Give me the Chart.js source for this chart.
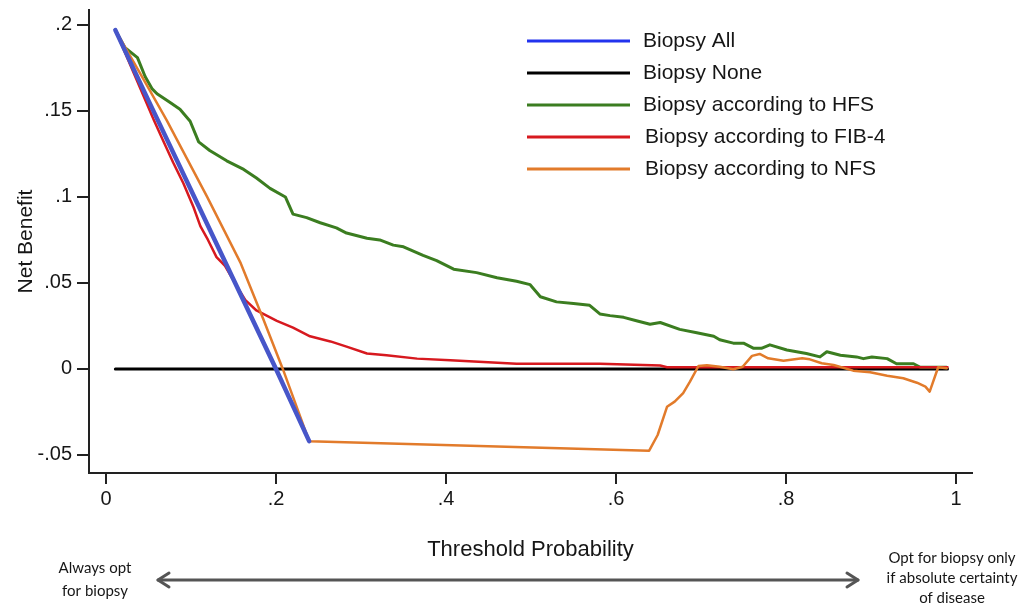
<!DOCTYPE html>
<html><head><meta charset="utf-8">
<script src="https://cdn.jsdelivr.net/npm/chart.js@4/dist/chart.umd.min.js"></script>
<style>html,body{margin:0;padding:0;background:#fff;} canvas{display:block;}</style>
</head><body>
<canvas id="c" width="1019" height="603"></canvas>
<script>
// ---- data ----
const xTickValues = [0, 0.2, 0.4, 0.6, 0.8, 1];
const xTickLabels = ['0', '.2', '.4', '.6', '.8', '1'];
const yTickValues = [-0.05, 0, 0.05, 0.1, 0.15, 0.2];
const yTickLabels = ['-.05', '0', '.05', '.1', '.15', '.2'];

const seriesNames = ['Biopsy All', 'Biopsy None', 'Biopsy according to HFS', 'Biopsy according to FIB-4', 'Biopsy according to NFS'];

const allX = [0.011, 0.05, 0.10, 0.15, 0.20, 0.239];
const allY = [0.197, 0.156, 0.104, 0.052, 0.000, -0.042];

const noneX = [0.011, 0.99];
const noneY = [0, 0];

const hfsX = [0.011,0.022,0.037,0.046,0.054,0.060,0.075,0.087,0.099,0.109,0.122,0.142,0.162,0.177,0.193,0.211,0.220,0.236,0.252,0.271,0.283,0.307,0.322,0.338,0.350,0.373,0.389,0.409,0.436,0.460,0.483,0.499,0.511,0.530,0.550,0.569,0.581,0.593,0.609,0.624,0.640,0.652,0.675,0.695,0.705,0.715,0.722,0.738,0.750,0.762,0.771,0.781,0.801,0.824,0.840,0.848,0.864,0.883,0.891,0.901,0.919,0.930,0.950,0.958,0.989];
const hfsY = [0.197,0.187,0.181,0.170,0.163,0.160,0.155,0.151,0.144,0.132,0.127,0.121,0.116,0.111,0.105,0.100,0.090,0.088,0.085,0.082,0.079,0.076,0.075,0.072,0.071,0.066,0.063,0.058,0.056,0.053,0.051,0.049,0.042,0.039,0.038,0.037,0.032,0.031,0.030,0.028,0.026,0.027,0.023,0.021,0.020,0.019,0.017,0.015,0.015,0.012,0.012,0.014,0.011,0.009,0.007,0.010,0.008,0.007,0.006,0.007,0.006,0.003,0.003,0.001,0.001];

const fibX = [0.011,0.056,0.067,0.079,0.091,0.103,0.111,0.120,0.130,0.140,0.154,0.164,0.177,0.193,0.201,0.220,0.240,0.264,0.283,0.307,0.330,0.366,0.405,0.444,0.483,0.502,0.542,0.581,0.652,0.660,0.990];
const fibY = [0.197,0.145,0.133,0.120,0.108,0.094,0.083,0.075,0.065,0.060,0.048,0.040,0.034,0.030,0.028,0.024,0.019,0.016,0.013,0.009,0.008,0.006,0.005,0.004,0.003,0.003,0.003,0.003,0.002,0.001,0.001];

const nfsX = [0.011,0.040,0.071,0.119,0.158,0.185,0.208,0.239,0.639,0.649,0.660,0.669,0.679,0.687,0.697,0.707,0.722,0.738,0.749,0.760,0.769,0.779,0.797,0.819,0.828,0.842,0.856,0.879,0.899,0.919,0.938,0.954,0.964,0.969,0.979,0.989];
const nfsY = [0.197,0.172,0.145,0.100,0.062,0.029,0.000,-0.042,-0.0475,-0.0384,-0.022,-0.019,-0.014,-0.0074,0.0017,0.0022,0.0013,-0.0002,0.0013,0.0076,0.0087,0.0062,0.0048,0.0062,0.0056,0.0033,0.0023,-0.001,-0.0019,-0.0039,-0.0054,-0.008,-0.0103,-0.0132,0.001,0.0004];

const leftNote = ['Always opt', 'for biopsy'];
const rightNote = ['Opt for biopsy only', 'if absolute certainty', 'of disease'];
const xTitle = 'Threshold Probability';
const yTitle = 'Net Benefit';

// ---- helpers ----
const zip = (xs, ys) => xs.map((x, i) => ({ x: x, y: ys[i] }));
const FONT = '"Liberation Sans", Arial, sans-serif';
const TEXT = '#161616';

const insideLegend = {
  id: 'insideLegend',
  afterDraw(chart) {
    const ctx = chart.ctx;
    ctx.save();
    chart.data.datasets.forEach((ds, i) => {
      const y = 41 + i * 32;
      ctx.strokeStyle = ds.legendColor || ds.borderColor;
      ctx.lineWidth = 3;
      ctx.beginPath(); ctx.moveTo(527, y); ctx.lineTo(630, y); ctx.stroke();
      ctx.fillStyle = TEXT;
      ctx.font = '21px ' + FONT;
      ctx.textBaseline = 'middle';
      ctx.textAlign = 'left';
      ctx.fillText(ds.label, i >= 3 ? 645 : 643, y);
    });
    ctx.restore();
  }
};

const bottomNotes = {
  id: 'bottomNotes',
  afterDraw(chart) {
    const ctx = chart.ctx;
    ctx.save();
    const y = 580, x1 = 158, x2 = 858;
    ctx.strokeStyle = '#555';
    ctx.lineWidth = 3;
    ctx.lineCap = 'round';
    ctx.lineJoin = 'round';
    ctx.beginPath(); ctx.moveTo(x1, y); ctx.lineTo(x2, y); ctx.stroke();
    ctx.beginPath(); ctx.moveTo(x1 + 11, y - 7); ctx.lineTo(x1, y); ctx.lineTo(x1 + 11, y + 7); ctx.stroke();
    ctx.beginPath(); ctx.moveTo(x2 - 11, y - 7); ctx.lineTo(x2, y); ctx.lineTo(x2 - 11, y + 7); ctx.stroke();
    ctx.fillStyle = TEXT;
    ctx.font = '15px Lato, "Open Sans", sans-serif';
    ctx.textAlign = 'center';
    ctx.textBaseline = 'middle';
    leftNote.forEach((t, i) => ctx.fillText(t, 95, 568 + i * 23));
    rightNote.forEach((t, i) => ctx.fillText(t, 952, 558 + i * 20));
    ctx.restore();
  }
};

new Chart(document.getElementById('c'), {
  type: 'line',
  data: {
    datasets: [
      { label: seriesNames[0], data: zip(allX, allY), borderColor: '#4756c9', legendColor: '#2233ee', borderWidth: 4.5, order: 1 },
      { label: seriesNames[1], data: zip(noneX, noneY), borderColor: '#000000', borderWidth: 3, order: 5 },
      { label: seriesNames[2], data: zip(hfsX, hfsY), borderColor: '#3b7d20', borderWidth: 3, order: 4 },
      { label: seriesNames[3], data: zip(fibX, fibY), borderColor: '#d7191f', borderWidth: 2.5, order: 3 },
      { label: seriesNames[4], data: zip(nfsX, nfsY), borderColor: '#e27b2b', borderWidth: 2.5, order: 2 }
    ]
  },
  options: {
    responsive: false,
    animation: false,
    layout: { padding: { top: 10, right: 47, left: 0, bottom: 0 } },
    plugins: { legend: { display: false }, tooltip: { enabled: false } },
    elements: {
      point: { radius: 0 },
      line: { tension: 0, borderJoinStyle: 'round', borderCapStyle: 'round', fill: false }
    },
    scales: {
      x: {
        type: 'linear', min: -0.02, max: 1.0188,
        afterBuildTicks: s => { s.ticks = xTickValues.map(v => ({ value: v })); },
        afterFit: s => { s.height = 130; s.paddingLeft = 0; s.paddingRight = 0; },
        ticks: { callback: (v, i) => xTickLabels[i], font: { family: FONT, size: 20 }, color: TEXT, padding: 3, maxRotation: 0, autoSkip: false },
        grid: { display: true, drawOnChartArea: false, drawTicks: true, tickLength: 11, color: '#222', lineWidth: 2 },
        border: { display: true, color: '#222', width: 2 },
        title: { display: true, text: xTitle, font: { family: FONT, size: 22 }, color: TEXT, padding: { top: 0, bottom: 40 } }
      },
      y: {
        type: 'linear', min: -0.0605, max: 0.2087,
        afterBuildTicks: s => { s.ticks = yTickValues.map(v => ({ value: v })); },
        afterFit: s => { s.width = 89; s.paddingTop = 0; s.paddingBottom = 0; },
        ticks: { callback: (v, i) => yTickLabels[i], font: { family: FONT, size: 20 }, color: TEXT, padding: 5, autoSkip: false },
        grid: { display: true, drawOnChartArea: false, drawTicks: true, tickLength: 12, color: '#222', lineWidth: 2 },
        border: { display: true, color: '#222', width: 2 },
        title: { display: true, text: yTitle, font: { family: FONT, size: 21 }, color: TEXT, padding: { top: 14, bottom: 0 } }
      }
    }
  },
  plugins: [insideLegend, bottomNotes]
});
</script>
</body></html>
